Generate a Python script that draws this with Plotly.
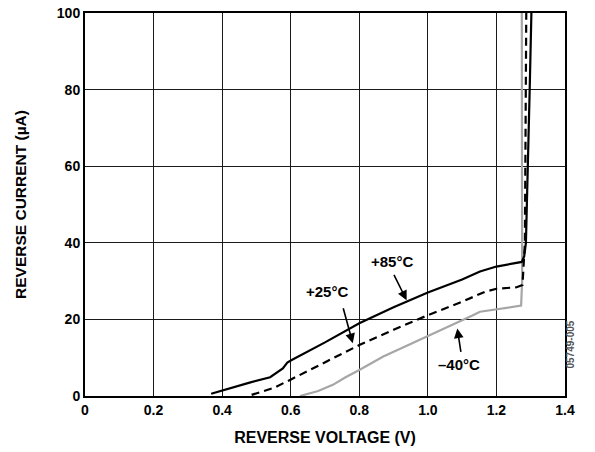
import plotly.graph_objects as go

# +85°C (black solid)
v85 = [0.368, 0.42, 0.48, 0.54, 0.577, 0.59, 0.603, 0.70, 0.80, 0.90, 1.00, 1.10, 1.152, 1.20, 1.225, 1.274, 1.281, 1.286, 1.297, 1.302]
i85 = [0.6, 2.0, 3.5, 4.9, 7.2, 8.7, 9.4, 14.0, 19.0, 23.2, 27.0, 30.4, 32.5, 33.8, 34.2, 35.0, 36.5, 40.0, 80.0, 100.0]

# +25°C (black dashed)
v25 = [0.486, 0.55, 0.598, 0.70, 0.80, 0.90, 1.00, 1.10, 1.166, 1.20, 1.259, 1.276, 1.283, 1.287]
i25 = [0.3, 2.1, 4.2, 8.7, 13.3, 17.3, 21.1, 24.6, 27.2, 28.0, 28.4, 29.0, 40.0, 100.0]

# -40°C (grey)
vm40 = [0.627, 0.68, 0.723, 0.76, 0.80, 0.87, 0.94, 1.00, 1.07, 1.13, 1.152, 1.20, 1.259, 1.272, 1.275, 1.274]
im40 = [0.0, 1.3, 2.9, 4.9, 6.8, 10.3, 13.2, 15.6, 18.5, 21.0, 22.0, 22.6, 23.3, 23.6, 30.0, 100.0]

x_ticks = [0, 0.2, 0.4, 0.6, 0.8, 1.0, 1.2, 1.4]
x_tick_labels = ["0", "0.2", "0.4", "0.6", "0.8", "1.0", "1.2", "1.4"]
y_ticks = [0, 20, 40, 60, 80, 100]
y_tick_labels = ["0", "20", "40", "60", "80", "100"]

FONT = "Liberation Sans, Arial, sans-serif"

fig = go.Figure()
fig.add_trace(go.Scatter(x=vm40, y=im40, mode="lines", line=dict(color="#a6a6a6", width=2.2), showlegend=False))
fig.add_trace(go.Scatter(x=v25, y=i25, mode="lines", line=dict(color="black", width=2.2, dash="8px,5px"), showlegend=False))
fig.add_trace(go.Scatter(x=v85, y=i85, mode="lines", line=dict(color="black", width=2.2), showlegend=False))

labels = [
    ("+85°C", 0.894, 35.1, 0.899, 32.0, 0.938, 25.0),
    ("+25°C", 0.707, 27.2, 0.752, 23.3, 0.781, 13.8),
    ("–40°C", 1.092, 8.1, 1.097, 11.1, 1.086, 17.6),
]
for text, tx, ty, ax_, ay_, hx, hy in labels:
    fig.add_annotation(x=tx, y=ty, text=text, showarrow=False,
                       font=dict(family=FONT, size=15, color="black", weight="bold"))
    fig.add_annotation(x=hx, y=hy, ax=ax_, ay=ay_, axref="x", ayref="y", text="",
                       showarrow=True, arrowhead=2, arrowsize=1.2, arrowwidth=1.6, arrowcolor="black")

fig.add_annotation(x=(577 - 85) / 480, y=(452 - 371 - 56) / 383, xref="paper", yref="paper",
                   text="05749-005", showarrow=False,
                   textangle=-90, font=dict(family=FONT, size=10, color="#555555"))

fig.update_layout(
    width=595, height=452,
    margin=dict(l=85, r=30, t=13, b=56, autoexpand=False),
    plot_bgcolor="white", paper_bgcolor="white",
    font=dict(family=FONT, size=14, color="black", weight="bold"),
)

fig.update_xaxes(range=[0, 1.4], tickvals=x_ticks, ticktext=x_tick_labels,
                 showgrid=True, gridcolor="#1a1a1a", gridwidth=1,
                 showline=True, linecolor="black", linewidth=2, mirror=True,
                 ticks="", zeroline=False, automargin=False,
                 tickfont=dict(family=FONT, size=14, color="black", weight="bold"),
                 title=dict(text="REVERSE VOLTAGE (V)", standoff=15,
                            font=dict(family=FONT, size=16, color="black", weight="bold")))
fig.update_yaxes(range=[0, 100], tickvals=y_ticks, ticktext=y_tick_labels,
                 showgrid=True, gridcolor="#1a1a1a", gridwidth=1,
                 showline=True, linecolor="black", linewidth=2, mirror=True,
                 ticks="", zeroline=False, automargin=False,
                 tickfont=dict(family=FONT, size=14, color="black", weight="bold"),
                 title=dict(text="REVERSE CURRENT (µA)", standoff=26,
                            font=dict(family=FONT, size=15.5, color="black", weight="bold")))

fig.write_html("out.html")
